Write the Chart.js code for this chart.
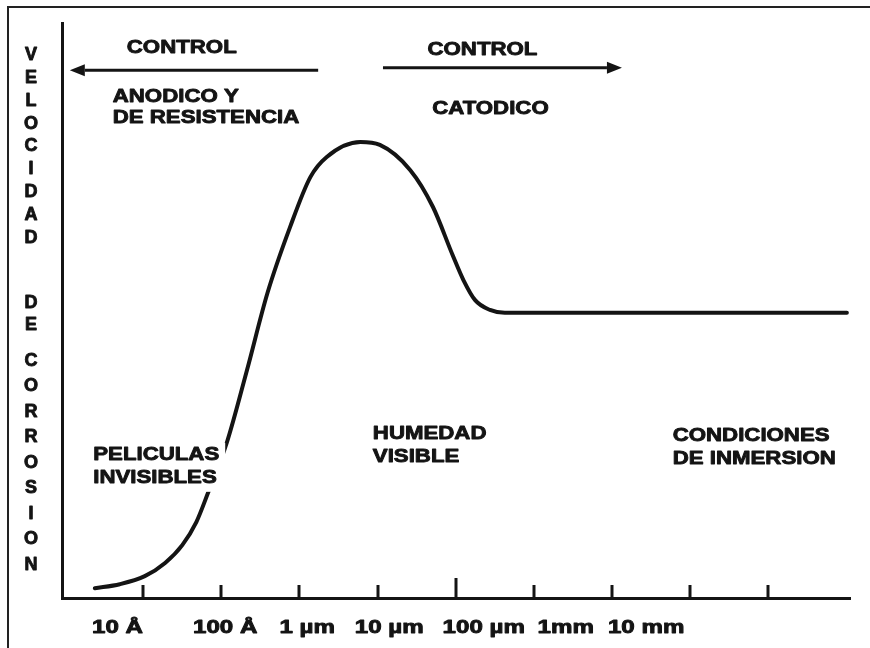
<!DOCTYPE html>
<html>
<head>
<meta charset="utf-8">
<script src="https://cdn.jsdelivr.net/npm/chart.js@4.4.1/dist/chart.umd.min.js"></script>
<style>
  html, body { margin: 0; padding: 0; background: #fff; }
</style>
</head>
<body>
<canvas id="chart" width="870" height="648"></canvas>
<script>
// Curva: espesor de la película (escala log, una unidad por década) vs velocidad relativa
const curveX = [0.38, 0.70, 1.02, 1.28, 1.50, 1.68, 1.83, 2.07, 2.33, 2.59, 2.88, 3.14, 3.35, 3.78, 4.03, 4.42, 4.71, 4.96, 5.10, 5.25, 5.44, 5.63, 10.01];
const curveY = [1.7, 2.4, 3.8, 6.1, 9.2, 13.2, 18.3, 27.0, 39.7, 53.0, 64.5, 73.2, 76.7, 79.3, 78.8, 74.4, 68.0, 59.7, 55.3, 51.8, 50.1, 49.6, 49.6];

// Marcas del eje x y sus etiquetas
const tickMarks = [1, 2, 3, 4, 5, 6, 7, 8, 9];
const xLabels = ['10 Å', '100 Å', '1 µm', '10 µm', '100 µm', '1mm', '10 mm'];
const xLabelAt = [0.67, 2.05, 3.10, 4.15, 5.36, 6.41, 7.44];

const yTitleWords = ['VELOCIDAD', 'DE', 'CORROSION'];

const INK = '#141414';
const FONT = '"Liberation Sans", Arial, sans-serif';
const STRETCH = 1.17;

// Textos dentro del gráfico (posición en unidades de los ejes)
const notes = [
  { lines: ['CONTROL'], x: 0.79, y: 95.7 },
  { lines: ['ANODICO Y', 'DE RESISTENCIA'], x: 0.61, y: 87.1, gap: 21 },
  { lines: ['CONTROL'], x: 4.64, y: 95.3 },
  { lines: ['CATODICO'], x: 4.70, y: 85.0 },
  { lines: ['PELICULAS', 'INVISIBLES'], x: 0.36, y: 24.9, knockout: true },
  { lines: ['HUMEDAD', 'VISIBLE'], x: 3.94, y: 28.5 },
  { lines: ['CONDICIONES', 'DE INMERSION'], x: 7.78, y: 28.2 }
];

const arrows = [
  { from: 3.24, to: 0.06, y: 91.8 },
  { from: 4.07, to: 7.13, y: 92.2 }
];

const pts = curveX.map((x, i) => ({ x: x, y: curveY[i] }));

// texto negro "engordado" como en el escaneo
function heavyText(ctx, t, x, y) {
  ctx.fillText(t, x, y);
  ctx.strokeText(t, x, y);
}

// marco del recorte escaneado
const framePlugin = {
  id: 'frame',
  beforeDraw(chart) {
    const ctx = chart.ctx;
    ctx.save();
    ctx.fillStyle = '#fff';
    ctx.fillRect(0, 0, chart.width, chart.height);
    ctx.strokeStyle = '#222';
    ctx.lineWidth = 2;
    ctx.beginPath();
    ctx.moveTo(8, chart.height);
    ctx.lineTo(8, 7);
    ctx.lineTo(chart.width, 7);
    ctx.stroke();
    ctx.restore();
  }
};

const decorPlugin = {
  id: 'decor',
  afterDatasetsDraw(chart) {
    const ctx = chart.ctx;
    const xs = chart.scales.x, ys = chart.scales.y;
    const base = chart.chartArea.bottom;
    ctx.save();

    // marcas hacia arriba sobre el eje x
    ctx.strokeStyle = INK;
    ctx.lineWidth = 3;
    tickMarks.forEach(v => {
      const px = Math.round(xs.getPixelForValue(v));
      const len = v === 5 ? 20 : 13;
      ctx.beginPath();
      ctx.moveTo(px, base);
      ctx.lineTo(px, base - len);
      ctx.stroke();
    });

    // flechas de control
    ctx.fillStyle = INK;
    arrows.forEach(a => {
      const x0 = xs.getPixelForValue(a.from);
      const x1 = xs.getPixelForValue(a.to);
      const py = ys.getPixelForValue(a.y);
      const dir = Math.sign(x1 - x0);
      const head = 15;
      ctx.lineWidth = 3;
      ctx.beginPath();
      ctx.moveTo(x0, py);
      ctx.lineTo(x1 - dir * head, py);
      ctx.stroke();
      ctx.beginPath();
      ctx.moveTo(x1, py);
      ctx.lineTo(x1 - dir * head, py - 6);
      ctx.lineTo(x1 - dir * head, py + 6);
      ctx.closePath();
      ctx.fill();
    });

    ctx.lineWidth = 0.9;
    ctx.lineJoin = 'round';
    ctx.textBaseline = 'middle';

    // etiquetas del eje x
    ctx.font = 'bold 19px ' + FONT;
    ctx.textAlign = 'center';
    xLabels.forEach((t, i) => {
      ctx.save();
      ctx.translate(xs.getPixelForValue(xLabelAt[i]), 628);
      ctx.scale(1.27, 1);
      heavyText(ctx, t, 0, 0);
      ctx.restore();
    });

    // textos
    ctx.textAlign = 'left';
    notes.forEach(n => {
      const px = xs.getPixelForValue(n.x);
      const py = ys.getPixelForValue(n.y);
      const gap = n.gap || 23;
      if (n.knockout) {
        const w = Math.max(...n.lines.map(l => ctx.measureText(l).width)) * STRETCH;
        ctx.fillStyle = '#fff';
        ctx.fillRect(px - 4, py - 12, w + 10, gap * (n.lines.length - 1) + 26);
        ctx.fillStyle = INK;
      }
      n.lines.forEach((l, i) => {
        ctx.save();
        ctx.translate(px, py + i * gap);
        ctx.scale(STRETCH, 1);
        heavyText(ctx, l, 0, 0);
        ctx.restore();
      });
    });

    // título vertical letra por letra
    ctx.font = 'bold 18px ' + FONT;
    ctx.textAlign = 'center';
    const spans = [[55, 238], [303, 325], [361, 565]];
    yTitleWords.forEach((w, k) => {
      const [a, b] = spans[k];
      const step = w.length > 1 ? (b - a) / (w.length - 1) : 0;
      [...w].forEach((ch, i) => heavyText(ctx, ch, 31, a + i * step));
    });

    ctx.restore();
  }
};

const ctx = document.getElementById('chart').getContext('2d');
new Chart(ctx, {
  type: 'line',
  data: {
    datasets: [{
      data: pts,
      borderColor: INK,
      borderWidth: 4,
      pointRadius: 0,
      fill: false,
      cubicInterpolationMode: 'monotone',
      borderCapStyle: 'round'
    }]
  },
  options: {
    responsive: false,
    animation: false,
    layout: { padding: { left: 62, right: 20, top: 23, bottom: 50 } },
    plugins: {
      legend: { display: false },
      tooltip: { enabled: false }
    },
    scales: {
      x: {
        type: 'linear',
        min: -0.04,
        max: 10.05,
        ticks: { display: false },
        grid: { display: true, drawOnChartArea: false, drawTicks: false },
        border: { display: true, color: INK, width: 3 }
      },
      y: {
        min: 0,
        max: 100,
        ticks: { display: false },
        grid: { display: true, drawOnChartArea: false, drawTicks: false },
        border: { display: true, color: INK, width: 3 }
      }
    }
  },
  plugins: [framePlugin, decorPlugin]
});
</script>
</body>
</html>
